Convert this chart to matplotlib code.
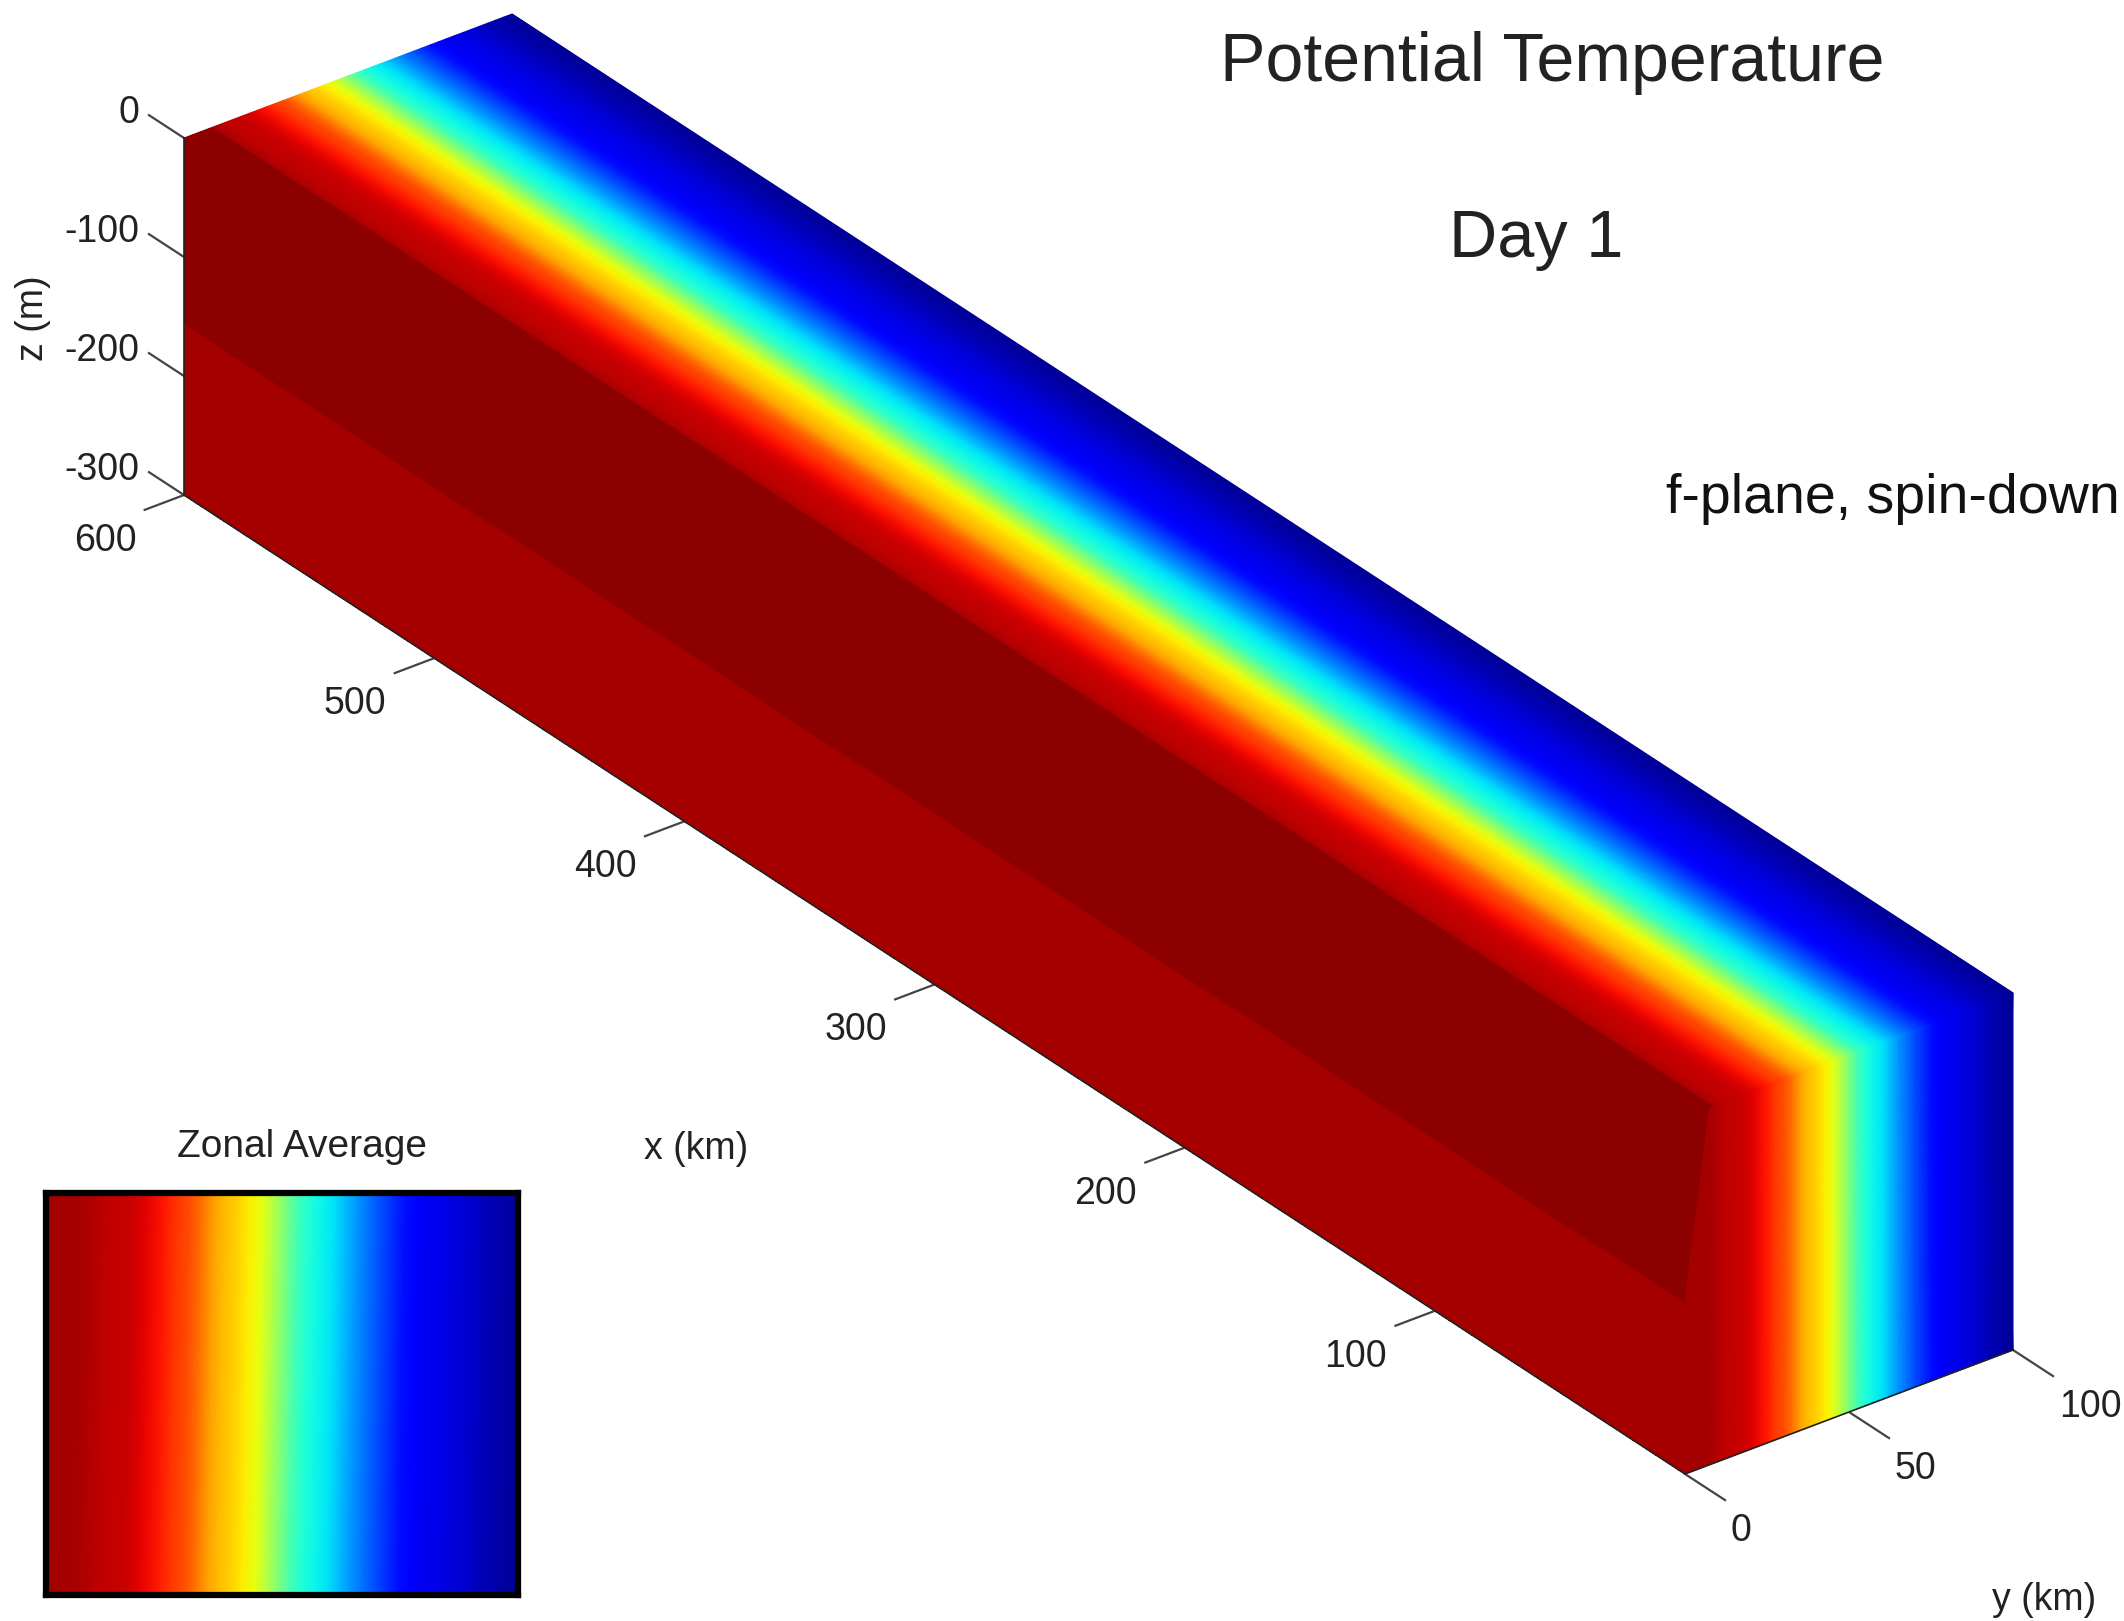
import numpy as np
import matplotlib
matplotlib.use('Agg')
import matplotlib.pyplot as plt

plt.rcParams['font.family'] = ['Liberation Sans', 'DejaVu Sans']

y_km = [0, 2.5, 5, 7.5, 10, 12.5, 15, 17.5, 20, 22.5, 25, 27.5, 30, 32.5,
        35, 37.5, 40, 42.5, 45, 47.5, 50, 52.5, 55, 57.5, 60, 62.5, 65, 67.5,
        70, 72.5, 75, 77.5, 80, 82.5, 85, 87.5, 90, 92.5, 95, 97.5, 100]
theta_y = [0.968, 0.968, 0.966, 0.963, 0.955, 0.945, 0.94, 0.935, 0.92, 0.90,
           0.88, 0.85, 0.83, 0.79, 0.74, 0.71, 0.69, 0.66, 0.63, 0.57,
           0.50, 0.43, 0.39, 0.365, 0.35, 0.31, 0.27, 0.235, 0.20, 0.17,
           0.14, 0.11, 0.10, 0.095, 0.085, 0.075, 0.065, 0.05, 0.04, 0.03, 0.02]

# Layers on the y=0 face
side_z_edges = [0, -157, -300]
side_theta = [0.985, 0.968]

# Darkest contour: strip on the top face, wedge on the x=0 face
theta_dark = 0.985
dark_top_y = [0, 8.7]
dark_face_y = [0, 7.3, 0]
dark_face_z = [0, 0, -150]

x_ticks = [600, 500, 400, 300, 200, 100]
y_ticks = [0, 50, 100]
z_ticks = [0, -100, -200, -300]

# Box corners in pixels
ORIGIN = np.array([184.0, 138.0])    # x=600, y=0, z=0
X_VEC = np.array([1501.0, 979.0]) / 600.0   # per km going towards x=0
Y_VEC = np.array([328.0, -124.0]) / 100.0
Z_VEC = np.array([0.0, -357.0]) / 300.0


def project(x, y, z):
    x, y, z = np.asarray(x, float), np.asarray(y, float), np.asarray(z, float)
    px = ORIGIN[0] + (600 - x) * X_VEC[0] + y * Y_VEC[0] + z * Z_VEC[0]
    py = ORIGIN[1] + (600 - x) * X_VEC[1] + y * Y_VEC[1] + z * Z_VEC[1]
    return px, py


cmap = plt.get_cmap('jet')
W, H = 2124, 1621
fig = plt.figure(figsize=(W / 100, H / 100), dpi=100)
ax = fig.add_axes([0, 0, 1, 1])
ax.set_xlim(0, W)
ax.set_ylim(H, 0)
ax.axis('off')

yy = np.array(y_km)
vals = np.array(theta_y)

# top face
Yg, Xg = np.meshgrid(yy, [600, 0])
px, py = project(Xg, Yg, np.zeros_like(Xg))
ax.pcolormesh(px, py, np.vstack([vals, vals]), cmap=cmap, vmin=0, vmax=1,
              shading='gouraud', zorder=2)

# right face, x = 0
Yg, Zg = np.meshgrid(yy, [0, -300])
px, py = project(np.zeros_like(Yg), Yg, Zg)
ax.pcolormesh(px, py, np.vstack([vals, vals]), cmap=cmap, vmin=0, vmax=1,
              shading='gouraud', zorder=2)

# left face, y = 0
Xe, Ze = np.meshgrid([600, 0], side_z_edges)
px, py = project(Xe, np.zeros_like(Xe), Ze)
ax.pcolormesh(px, py, np.array(side_theta).reshape(-1, 1), cmap=cmap, vmin=0, vmax=1,
              shading='flat', zorder=2)

# dark contour
px, py = project([600, 600, 0, 0], [dark_top_y[0], dark_top_y[1], dark_top_y[1], dark_top_y[0]], [0, 0, 0, 0])
ax.fill(px, py, color=cmap(theta_dark), lw=0, zorder=3)
px, py = project(np.zeros(3), dark_face_y, dark_face_z)
ax.fill(px, py, color=cmap(theta_dark), lw=0, zorder=3)

# box edges
edge = dict(color='#222222', lw=1.2, zorder=4)
px, py = project([600, 600], [0, 0], [0, -300])
ax.plot(px, py, **edge)
px, py = project([600, 0, 0], [0, 0, 100], [-300, -300, -300])
ax.plot(px, py, **edge)

tick = dict(color='#444444', lw=1.6, zorder=1)
label = dict(fontsize=27, color='#222222', zorder=5)

for v in x_ticks:
    px, py = project([v, v], [0, -12], [-300, -300])
    ax.plot(px, py, **tick)
    bx, by = project(v, 0, -300)
    ax.text(bx - 79, by + 46, str(v), ha='center', va='center', **label)

for v in y_ticks:
    px, py = project([0, -16], [v, v], [-300, -300])
    ax.plot(px, py, **tick)
    bx, by = project(0, v, -300)
    ax.text(bx + 46, by + 57, str(v), ha='left', va='center', **label)

for v in z_ticks:
    px, py = project([600, 614], [0, 0], [v, v])
    ax.plot(px, py, **tick)
    bx, by = project(600, 0, v)
    ax.text(bx - 45, by - 25, str(v), ha='right', va='center', **label)

ax.text(33, 318, 'z (m)', rotation=90, ha='center', va='center', **label)
ax.text(696, 1149, 'x (km)', ha='center', va='center', **label)
ax.text(2044, 1600, 'y (km)', ha='center', va='center', **label)
ax.text(302, 1147, 'Zonal Average', ha='center', va='center', fontsize=28, color='#222222')

ax.text(1552, 63, 'Potential Temperature', ha='center', va='center', fontsize=49, color='#222222')
ax.text(1536, 240, 'Day 1', ha='center', va='center', fontsize=48, color='#222222')
ax.text(1666, 499, 'f-plane, spin-down', ha='left', va='center', fontsize=40, color='#111111')

# zonal average panel
pl, pr, pt, pb = 46, 518, 1193, 1595
inset = fig.add_axes([pl / W, 1 - pb / H, (pr - pl) / W, (pb - pt) / H])
Xp = np.vstack([yy - 1.5, yy])
Zp = np.array([[-300] * len(yy), [0] * len(yy)])
inset.pcolormesh(Xp, Zp, np.vstack([vals, vals]), cmap=cmap, vmin=0, vmax=1, shading='gouraud')
inset.set_xlim(0, 98.5)
inset.set_ylim(-300, 0)
inset.set_xticks([])
inset.set_yticks([])
for s in inset.spines.values():
    s.set_linewidth(4.5)
    s.set_color('black')

fig.savefig('out.png', dpi=100)
